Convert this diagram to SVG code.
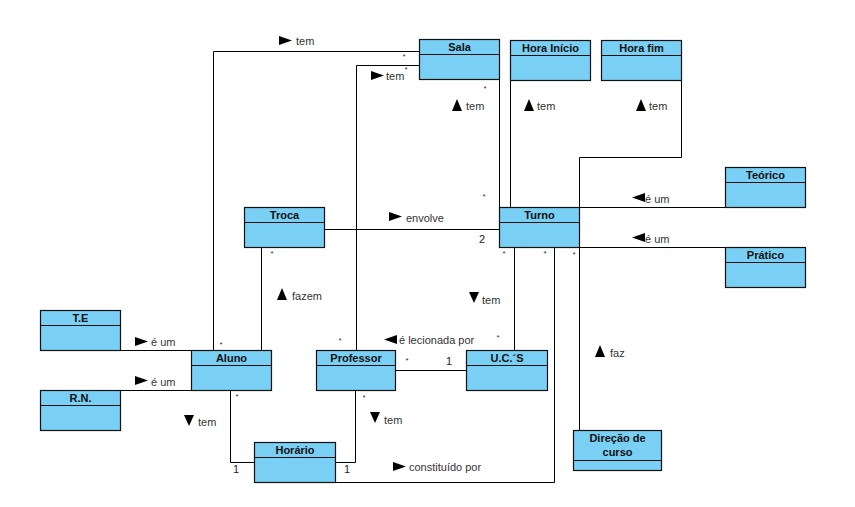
<svg xmlns="http://www.w3.org/2000/svg" xmlns:xlink="http://www.w3.org/1999/xlink" width="855" height="507" viewBox="0 0 855 507">
<style>
.box{fill:#7ACFF4;stroke:#111;stroke-width:1.2}
.div{stroke:#111;stroke-width:1.2}
.cn{fill:none;stroke:#000;stroke-width:1}
.nm{font-family:"Liberation Sans",Arial,sans-serif;font-size:11px;font-weight:bold;fill:#111;text-anchor:middle}
.lb{font-family:"Liberation Sans",Arial,sans-serif;font-size:11px;fill:#333}
.mu{font-family:"Liberation Sans",Arial,sans-serif;font-size:11px;fill:#222}
.st{font-family:"Liberation Sans",Arial,sans-serif;font-size:8px;fill:#333;text-anchor:middle}
.tri{fill:#000}
</style>
<defs>
<polygon id="tr" class="tri" points="0,0 13,4.5 0,9"/>
<polygon id="tl" class="tri" points="13,0 0,4.5 13,9"/>
<polygon id="tu" class="tri" points="0,12 5,0 10,12"/>
<polygon id="td" class="tri" points="0,0 10,0 5,11"/>
</defs>
<rect width="855" height="507" fill="#fff"/>
<g id="connectors">
<path class="cn" d="M213.5 350.5V51.5H419.5"/>
<path class="cn" d="M356.5 350.5V65.5H419.5"/>
<path class="cn" d="M499.5 79.5V207.5"/>
<path class="cn" d="M510.5 80.5V207.5"/>
<path class="cn" d="M681.5 80.5V157.5H579.5V207.5"/>
<path class="cn" d="M579.5 207.5H725.5"/>
<path class="cn" d="M579.5 247.5H725.5"/>
<path class="cn" d="M324.5 229.5H499.5"/>
<path class="cn" d="M261.5 247.5V350.5"/>
<path class="cn" d="M514.5 247.5V350.5"/>
<path class="cn" d="M554.5 247.5V482.5H335.5"/>
<path class="cn" d="M579.5 247.5V430.5"/>
<path class="cn" d="M395.5 370.5H466.5"/>
<path class="cn" d="M120.5 350.5H191.5"/>
<path class="cn" d="M120.5 390.5H191.5"/>
<path class="cn" d="M230.5 390.5V462.5H254.5"/>
<path class="cn" d="M355.5 390.5V462.5H335.5"/>
<!-- labels -->
<use xlink:href="#tr" x="279" y="36"/><text class="lb" x="296" y="45">tem</text>
<use xlink:href="#tr" x="371" y="71"/><text class="lb" x="386" y="80">tem</text>
<use xlink:href="#tu" x="452" y="99"/><text class="lb" x="466" y="110">tem</text>
<use xlink:href="#tu" x="524" y="99"/><text class="lb" x="537" y="110">tem</text>
<use xlink:href="#tu" x="636" y="99"/><text class="lb" x="649" y="110">tem</text>
<use xlink:href="#tl" x="632" y="193"/><text class="lb" x="645" y="203">é um</text>
<use xlink:href="#tl" x="632" y="233"/><text class="lb" x="645" y="243">é um</text>
<use xlink:href="#tr" x="389" y="212"/><text class="lb" x="406" y="222">envolve</text>
<use xlink:href="#tu" x="277" y="288"/><text class="lb" x="292" y="300">fazem</text>
<use xlink:href="#tr" x="135" y="337"/><text class="lb" x="151" y="346">é um</text>
<use xlink:href="#tr" x="135" y="376"/><text class="lb" x="151" y="386">é um</text>
<use xlink:href="#td" x="184" y="415"/><text class="lb" x="198" y="426">tem</text>
<use xlink:href="#td" x="370" y="412"/><text class="lb" x="384" y="424">tem</text>
<use xlink:href="#td" x="469" y="292"/><text class="lb" x="482" y="304">tem</text>
<use xlink:href="#tl" x="384" y="335"/><text class="lb" x="399" y="344">é lecionada por</text>
<use xlink:href="#tu" x="595" y="345"/><text class="lb" x="610" y="357">faz</text>
<use xlink:href="#tr" x="393" y="462"/><text class="lb" x="409" y="471">constituído por</text>
<!-- multiplicities -->
<text class="st" x="404" y="59">*</text>
<text class="st" x="406" y="72">*</text>
<text class="st" x="485" y="91">*</text>
<text class="st" x="484" y="199">*</text>
<text class="mu" x="479" y="243">2</text>
<text class="st" x="504" y="256">*</text>
<text class="st" x="545" y="256">*</text>
<text class="st" x="574" y="257">*</text>
<text class="st" x="272" y="256">*</text>
<text class="st" x="221" y="347">*</text>
<text class="st" x="340" y="343">*</text>
<text class="st" x="498" y="340">*</text>
<text class="st" x="407" y="363">*</text>
<text class="mu" x="446" y="365">1</text>
<text class="st" x="237" y="399">*</text>
<text class="st" x="364" y="400">*</text>
<text class="mu" x="233" y="473">1</text>
<text class="mu" x="344" y="473">1</text>
</g>
<g id="sala"><rect class="box" x="419.5" y="39.5" width="80" height="40"/><line class="div" x1="419.5" y1="54.5" x2="499.5" y2="54.5"/><text class="nm" x="459.5" y="51">Sala</text></g>
<g id="hora-inicio"><rect class="box" x="510.5" y="40.5" width="80" height="40"/><line class="div" x1="510.5" y1="55.5" x2="590.5" y2="55.5"/><text class="nm" x="550.5" y="52">Hora Início</text></g>
<g id="hora-fim"><rect class="box" x="601.5" y="40.5" width="80" height="40"/><line class="div" x1="601.5" y1="55.5" x2="681.5" y2="55.5"/><text class="nm" x="641.5" y="52">Hora fim</text></g>
<g id="troca"><rect class="box" x="244.5" y="207.5" width="80" height="40"/><line class="div" x1="244.5" y1="222.5" x2="324.5" y2="222.5"/><text class="nm" x="284.5" y="219">Troca</text></g>
<g id="turno"><rect class="box" x="499.5" y="207.5" width="80" height="40"/><line class="div" x1="499.5" y1="222.5" x2="579.5" y2="222.5"/><text class="nm" x="539.5" y="219">Turno</text></g>
<g id="teorico"><rect class="box" x="725.5" y="167.5" width="80" height="40"/><line class="div" x1="725.5" y1="182.5" x2="805.5" y2="182.5"/><text class="nm" x="765.5" y="179">Teórico</text></g>
<g id="pratico"><rect class="box" x="725.5" y="247.5" width="80" height="40"/><line class="div" x1="725.5" y1="262.5" x2="805.5" y2="262.5"/><text class="nm" x="765.5" y="259">Prático</text></g>
<g id="te"><rect class="box" x="40.5" y="310.5" width="80" height="40"/><line class="div" x1="40.5" y1="325.5" x2="120.5" y2="325.5"/><text class="nm" x="80.5" y="322">T.E</text></g>
<g id="rn"><rect class="box" x="40.5" y="390.5" width="80" height="40"/><line class="div" x1="40.5" y1="405.5" x2="120.5" y2="405.5"/><text class="nm" x="80.5" y="402">R.N.</text></g>
<g id="aluno"><rect class="box" x="191.5" y="350.5" width="80" height="40"/><line class="div" x1="191.5" y1="365.5" x2="271.5" y2="365.5"/><text class="nm" x="231.5" y="362">Aluno</text></g>
<g id="professor"><rect class="box" x="316.5" y="350.5" width="79" height="40"/><line class="div" x1="316.5" y1="365.5" x2="395.5" y2="365.5"/><text class="nm" x="356" y="362">Professor</text></g>
<g id="ucs"><rect class="box" x="466.5" y="350.5" width="81" height="40"/><line class="div" x1="466.5" y1="365.5" x2="547.5" y2="365.5"/><text class="nm" x="507" y="362">U.C.´S</text></g>
<g id="horario"><rect class="box" x="254.5" y="442.5" width="81" height="40"/><line class="div" x1="254.5" y1="457.5" x2="335.5" y2="457.5"/><text class="nm" x="295" y="454">Horário</text></g>
<g id="direcao"><rect class="box" x="573.5" y="430.5" width="88" height="40"/><line class="div" x1="573.5" y1="460.5" x2="661.5" y2="460.5"/><text class="nm" x="617.5" y="442">Direção de</text><text class="nm" x="617.5" y="456">curso</text></g>
</svg>
